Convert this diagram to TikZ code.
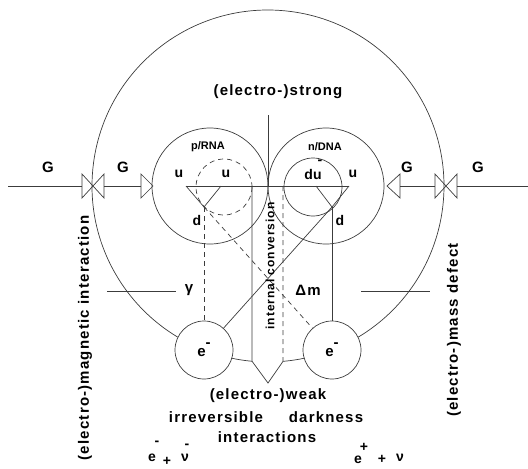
\documentclass[tikz,border=0pt]{standalone}
\usepackage{fontspec}
\setmainfont{Liberation Sans}
\newfontfamily\widefont{Liberation Sans}[LetterSpace=8]
\definecolor{linegray}{RGB}{60,60,60}

\begin{document}
\begin{tikzpicture}[x=1pt,y=-1pt,
    ln/.style={draw=linegray,line width=0.7pt},
    dsh/.style={ln,dash pattern=on 5pt off 4pt},
    lab/.style={inner sep=0pt,font=\widefont\bfseries\fontsize{15}{15}\selectfont},
    quark/.style={inner sep=0pt,font=\bfseries\fontsize{14}{14}\selectfont},
    small/.style={inner sep=0pt,font=\bfseries\fontsize{11}{11}\selectfont},
    elec/.style={ln,circle,fill=white,minimum size=58pt,inner sep=0pt,font=\bfseries\fontsize{15}{15}\selectfont}]
  \useasboundingbox (0,0) rectangle (528,469);
  % main circle, open at the bottom
  \coordinate (O) at (268,186);
  \draw[ln] (O) ++(95.2:176) coordinate (vl) arc[start angle=95.2,end angle=445.1,radius=176] coordinate (vr);
  \coordinate (vtip) at (268,383);
  \draw[ln] (vl) -- (vtip) -- (vr);
  % nucleons
  \draw[ln] (210,186) circle[radius=58];
  \draw[ln] (326,186) circle[radius=58];
  \draw[dsh] (224,187) circle[radius=28];
  \draw[ln] (313,187) circle[radius=29];
  \coordinate (top) at (268,115);
  \draw[ln] (top) -- (O);
  % quark triangles
  \coordinate (dL) at (204,207); \coordinate (dR) at (332,207);
  \draw[ln] (186,186) -- (dL) -- (221,186);
  \draw[ln] (316,186) -- (dR) -- (349,186);
  \draw[ln] (186,186) -- (349,186);
  \draw[ln] (252,186) -- (vl);
  \draw[dsh] (283,186) -- (vr);
  % gravity line with valves
  \draw[ln] (8,186) -- (82,186) (104,186) -- (141,186) (400,186) -- (435,186) (457,186) -- (528,186);
  \foreach \x in {82,435}{
    \draw[ln] (\x,174) -- ++(22,24) -- ++(0,-24) -- ++(-22,24) -- cycle;}
  \draw[ln] (141,174) -- (141,198) -- (153,186) -- cycle;
  \draw[ln] (400,174) -- (400,198) -- (387,186) -- cycle;
  % electrons
  \node[elec] (eL) at (204,350) {e\raisebox{9pt}{-}};
  \node[elec] (eR) at (332,350) {e\raisebox{9pt}{-}};
  \draw[dsh] (dL) -- (eL);
  \draw[dsh] (dL) -- (eR);
  \draw[ln] (dR) -- (eL);
  \draw[ln] (dR) -- (eR);
  \coordinate (gl) at (107,291); \coordinate (gr) at (176,291);
  \coordinate (ml) at (361,291); \coordinate (mr) at (430,291);
  \draw[ln] (gl) -- (gr) (ml) -- (mr);
  % labels
  \node[lab] (strong) at (278,92) {(electro-)strong};
  \foreach \x/\n in {48/1,123/2,407/3,478/4}
    \node[lab] (G\n) at (\x,167) {G};
  \node[small] (p) at (208,147) {p/RNA};
  \node[small] (n) at (325,147) {n/DNA};
  \node[quark] (u1) at (179,174) {u};
  \node[quark] (u2) at (226,174) {u};
  \node[quark] (du) at (313,174) {du};
  \node[quark] (bar) at (320,162) {-};
  \node[quark] (u3) at (353,174) {u};
  \node[quark] (d1) at (197,220) {d};
  \node[quark] (d2) at (340,220) {d};
  \node[lab] (gamma) at (189,290) {γ};
  \node[lab] (dm) at (308,290) {Δm};
  \node[inner sep=0pt,rotate=90,font=\widefont\bfseries\fontsize{12}{12}\selectfont] (ic) at (270,266) {internal conversion};
  \node[lab] (weak) at (268,396) {(electro-)weak};
  \node[lab] (irr) at (216,417) {irreversible};
  \node[lab] (dark) at (326,417) {darkness};
  \node[lab] (inter) at (267,437) {interactions};
  \node[lab,rotate=90] (em) at (85,338) {(electro-)magnetic interaction};
  \node[lab,rotate=90] (md) at (454,330) {(electro-)mass defect};
  % decay products
  \node[quark] (e1) at (152,458) {e};
  \node[quark] (s1) at (157,443) {-};
  \node[quark] (p1) at (167,461) {+};
  \node[quark] (nu1) at (185,458) {ν};
  \node[quark] (b1) at (187,446) {-};
  \node[quark] (e2) at (358,460) {e};
  \node[quark] (s2) at (364,447) {+};
  \node[quark] (p2) at (382,459) {+};
  \node[quark] (nu2) at (400,458) {ν};
\end{tikzpicture}
\end{document}
